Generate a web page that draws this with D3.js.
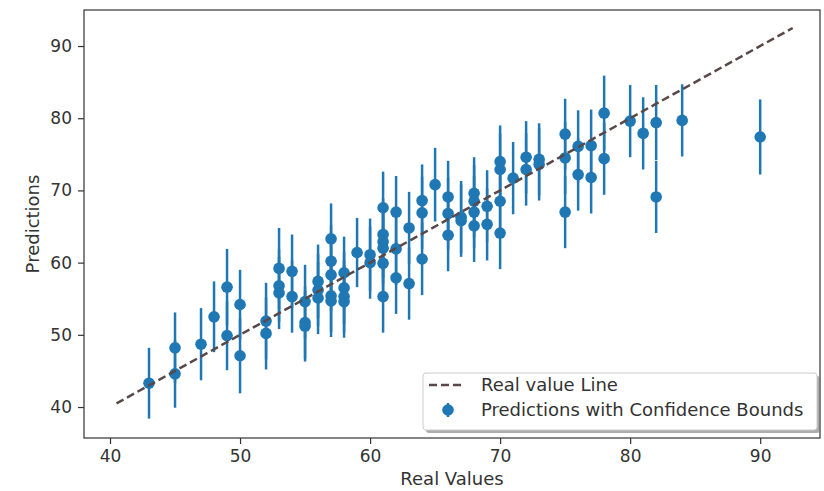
<!DOCTYPE html>
<html>
<head>
<meta charset="utf-8">
<script src="https://cdn.jsdelivr.net/npm/d3@7"></script>
<style>
  body { margin: 0; background: #fff; }
  svg { display: block; font-family: "DejaVu Sans", sans-serif; }
</style>
</head>
<body>
<svg width="824" height="491"></svg>
<script>
// real values (x)
var realValues = [43, 45, 45, 47, 48, 49, 49, 50, 50, 52, 52,
    53, 53, 53, 54, 54, 55, 55, 55, 56, 56, 56,
    57, 57, 57, 57, 57, 58, 58, 58, 58, 59, 60, 60,
    61, 61, 61, 61, 61, 61, 62, 62, 62, 63, 63, 64, 64, 64, 65,
    66, 66, 66, 67, 67, 68, 68, 68, 68, 69, 69,
    70, 70, 70, 70, 71, 72, 72, 73, 73, 75, 75, 75,
    76, 76, 77, 77, 78, 78, 80, 81, 82, 82, 84, 90];

// predicted values (y)
var predictions = [43.3, 48.2, 44.6, 48.7, 52.5, 56.6, 49.9, 54.2, 47.1, 51.9, 50.2,
    59.2, 56.8, 55.8, 58.8, 55.3, 54.6, 51.7, 51.2, 57.4, 56.2, 55.1,
    63.3, 60.2, 58.3, 55.4, 54.7, 58.6, 56.5, 55.3, 54.6, 61.4, 61.1, 60.0,
    67.6, 63.9, 62.9, 62.0, 59.9, 55.3, 67.0, 61.9, 57.9, 64.8, 57.1, 68.6, 66.9, 60.5, 70.8,
    69.1, 66.8, 63.8, 66.3, 65.8, 69.6, 68.5, 67.0, 65.1, 67.8, 65.3,
    74.0, 72.9, 68.5, 64.1, 71.7, 74.6, 72.9, 74.3, 73.6, 77.8, 74.5, 67.0,
    76.1, 72.2, 76.2, 71.8, 80.7, 74.4, 79.6, 77.9, 79.4, 69.1, 79.7, 77.4];

// half width of each confidence bound
var bounds = [4.9, 4.9, 4.7, 5.0, 4.9, 5.3, 4.8, 4.8, 5.2, 5.3, 5.0,
    5.6, 5.0, 5.0, 5.1, 5.0, 5.1, 5.0, 4.9, 5.1, 5.0, 5.0,
    4.9, 5.0, 5.0, 5.0, 5.0, 5.0, 5.0, 5.0, 5.0, 4.8, 5.0, 5.0,
    5.0, 5.0, 5.0, 5.0, 5.0, 5.0, 5.0, 5.0, 5.0, 5.0, 5.0, 5.0, 5.0, 5.0, 5.1,
    5.0, 5.0, 5.0, 5.0, 5.0, 5.0, 5.0, 5.0, 5.0, 5.0, 5.0,
    5.0, 5.0, 5.0, 5.0, 5.0, 5.0, 5.0, 5.0, 5.0, 4.9, 5.0, 5.0,
    5.0, 5.0, 5.0, 5.0, 5.2, 5.0, 5.0, 5.0, 5.2, 5.0, 5.0, 5.2];

var lineEnds = [40.5, 92.5];
var xTicks = [40, 50, 60, 70, 80, 90];
var yTicks = [40, 50, 60, 70, 80, 90];

var blue = '#1f77b4';
var margin = { top: 10, right: 4, bottom: 53, left: 84 };
var width = 824, height = 491;

var svg = d3.select('svg');

var xScale = d3.scaleLinear()
    .domain([38.0, 94.6])
    .range([margin.left, width - margin.right]);

var yScale = d3.scaleLinear()
    .domain([35.71, 94.99])
    .range([height - margin.bottom, margin.top]);

var points = realValues.map(function (d, i) {
    return { x: d, y: predictions[i], e: bounds[i] };
});

// plot background
svg.append('rect')
    .attr('x', margin.left).attr('y', margin.top)
    .attr('width', width - margin.left - margin.right)
    .attr('height', height - margin.top - margin.bottom)
    .attr('fill', '#fff');

// axes
var xAxis = d3.axisBottom(xScale).tickValues(xTicks).tickSize(6).tickPadding(6);
var yAxis = d3.axisLeft(yScale).tickValues(yTicks).tickSize(6).tickPadding(6);

var gx = svg.append('g')
    .attr('transform', 'translate(0,' + (height - margin.bottom) + ')')
    .call(xAxis);
var gy = svg.append('g')
    .attr('transform', 'translate(' + margin.left + ',0)')
    .call(yAxis);

[gx, gy].forEach(function (g) {
    g.select('.domain').remove();
    g.selectAll('.tick line').attr('stroke', '#333').attr('stroke-width', 1.2);
    g.selectAll('.tick text').attr('fill', '#333').style('font-size', '17px')
        .style('font-family', '"DejaVu Sans", sans-serif');
});

// error bars
svg.append('g').selectAll('line')
    .data(points)
    .enter().append('line')
    .attr('x1', d => xScale(d.x)).attr('x2', d => xScale(d.x))
    .attr('y1', d => yScale(d.y - d.e)).attr('y2', d => yScale(d.y + d.e))
    .attr('stroke', blue)
    .attr('stroke-width', 2.5);

// markers
svg.append('g').selectAll('circle')
    .data(points)
    .enter().append('circle')
    .attr('cx', d => xScale(d.x))
    .attr('cy', d => yScale(d.y))
    .attr('r', 5.8)
    .attr('fill', blue);

// real value line
svg.append('line')
    .attr('x1', xScale(lineEnds[0])).attr('y1', yScale(lineEnds[0]))
    .attr('x2', xScale(lineEnds[1])).attr('y2', yScale(lineEnds[1]))
    .attr('stroke', '#5a4848')
    .attr('stroke-width', 2.5)
    .attr('stroke-dasharray', '8,4');

// frame
svg.append('rect')
    .attr('x', margin.left).attr('y', margin.top)
    .attr('width', width - margin.left - margin.right)
    .attr('height', height - margin.top - margin.bottom)
    .attr('fill', 'none')
    .attr('stroke', '#333')
    .attr('stroke-width', 1.2);

// axis labels
svg.append('text')
    .attr('x', (margin.left + width - margin.right) / 2)
    .attr('y', 485)
    .attr('text-anchor', 'middle')
    .attr('fill', '#333')
    .style('font-size', '18px')
    .text('Real Values');

svg.append('text')
    .attr('transform', 'translate(39,' + ((margin.top + height - margin.bottom) / 2) + ') rotate(-90)')
    .attr('text-anchor', 'middle')
    .attr('fill', '#333')
    .style('font-size', '18px')
    .text('Predictions');

// legend
var legend = svg.append('g').attr('transform', 'translate(423,373)');
legend.append('rect')
    .attr('x', 3).attr('y', 3).attr('width', 394).attr('height', 57)
    .attr('rx', 3).attr('fill', '#777').attr('opacity', 0.6);
legend.append('rect')
    .attr('width', 394).attr('height', 57)
    .attr('rx', 3).attr('fill', '#fff').attr('stroke', '#ccc');

legend.append('line')
    .attr('x1', 6).attr('x2', 42).attr('y1', 12).attr('y2', 12)
    .attr('stroke', '#5a4848').attr('stroke-width', 2.5)
    .attr('stroke-dasharray', '8,4');
legend.append('line')
    .attr('x1', 25).attr('x2', 25).attr('y1', 30).attr('y2', 44)
    .attr('stroke', blue).attr('stroke-width', 2.5);
legend.append('circle')
    .attr('cx', 25).attr('cy', 37).attr('r', 5.8).attr('fill', blue);

legend.append('text')
    .attr('x', 58).attr('y', 18)
    .attr('fill', '#333').style('font-size', '18px')
    .text('Real value Line');
legend.append('text')
    .attr('x', 58).attr('y', 43)
    .attr('fill', '#333').style('font-size', '18px')
    .text('Predictions with Confidence Bounds');
</script>
</body>
</html>
